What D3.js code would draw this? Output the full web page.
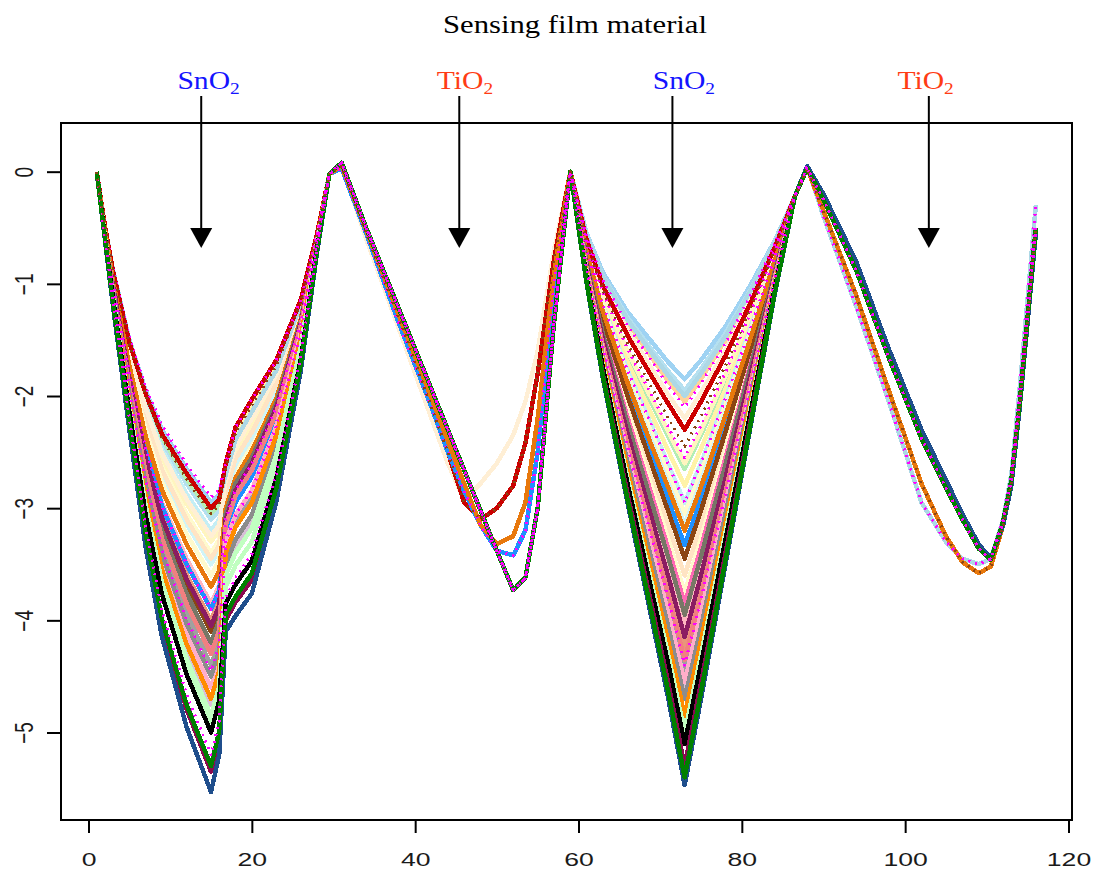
<!DOCTYPE html>
<html>
<head>
<meta charset="utf-8">
<script src="https://cdn.jsdelivr.net/npm/d3@7"></script>
<style>
  html, body { margin: 0; padding: 0; background: #ffffff; }
  svg { display: block; }
</style>
</head>
<body>
<svg id="chart" width="1094" height="871"></svg>
<script>
// Scan positions for each exposure cycle
const xCycle1 = [1, 2, 3, 5, 7, 9, 12, 15, 16, 16.8, 18, 20, 23, 26, 28, 29.5];
const xCycle2 = [31, 34, 38, 42, 44, 46, 48, 50, 52, 53.5, 55, 57, 59];
const xCycle3 = [61, 63, 66, 69, 71, 73, 75, 78, 81, 84, 86.5];
const xCycle4 = [88, 90, 94, 98, 102, 105, 107, 109, 110.5, 112, 113, 114, 116];

// Cycle 1 (SnO2 exposure and recovery), one row per sample
const cycle1 = [
  [0, -0.48, -0.88, -1.5, -1.95, -2.3, -2.65, -2.95, -2.88, -2.62, -2.3, -2.05, -1.7, -1.15, -0.55, -0.02],
  [0, -0.49, -0.90, -1.55, -2.03, -2.41, -2.78, -3.10, -3.02, -2.70, -2.39, -2.14, -1.77, -1.18, -0.56, -0.02],
  [0, -0.48, -0.89, -1.52, -1.98, -2.34, -2.69, -3.0, -2.92, -2.65, -2.33, -2.08, -1.73, -1.16, -0.55, -0.02],
  [0, -0.48, -0.89, -1.53, -2.0, -2.37, -2.74, -3.05, -2.97, -2.68, -2.37, -2.12, -1.75, -1.18, -0.56, -0.02],
  [0, -0.48, -0.89, -1.52, -1.98, -2.34, -2.69, -3.0, -2.92, -2.66, -2.34, -2.10, -1.73, -1.17, -0.55, -0.02],
  [0, -0.48, -0.89, -1.52, -1.98, -2.34, -2.69, -3.0, -2.92, -2.6, -2.28, -2.03, -1.68, -1.14, -0.55, -0.02],
  [0, -0.49, -0.91, -1.58, -2.09, -2.48, -2.87, -3.2, -3.1, -2.9, -2.61, -2.37, -1.94, -1.27, -0.58, -0.02],
  [0, -0.50, -0.94, -1.64, -2.19, -2.62, -3.05, -3.4, -3.28, -2.95, -2.67, -2.43, -1.98, -1.29, -0.58, -0.02],
  [0, -0.52, -1.0, -1.79, -2.47, -2.98, -3.5, -3.9, -3.73, -3.2, -2.95, -2.72, -2.19, -1.39, -0.61, -0.02],
  [0, -0.53, -1.02, -1.86, -2.57, -3.13, -3.68, -4.1, -3.91, -3.1, -2.84, -2.60, -2.10, -1.35, -0.60, -0.02],
  [0, -0.51, -0.97, -1.73, -2.36, -2.84, -3.32, -3.7, -3.56, -3.0, -2.73, -2.49, -2.02, -1.31, -0.59, -0.02],
  [0, -0.54, -1.03, -1.89, -2.63, -3.2, -3.76, -4.2, -4.0, -3.05, -2.78, -2.55, -2.06, -1.33, -0.60, -0.02],
  [0, -0.53, -1.02, -1.84, -2.55, -3.09, -3.63, -4.05, -3.87, -3.1, -2.84, -2.60, -2.10, -1.35, -0.60, -0.02],
  [0, -0.54, -1.05, -1.92, -2.68, -3.27, -3.85, -4.3, -4.09, -3.15, -2.89, -2.66, -2.15, -1.37, -0.61, -0.02],
  [0, -0.56, -1.08, -2.01, -2.85, -3.48, -4.12, -4.6, -4.36, -3.3, -3.06, -2.84, -2.27, -1.44, -0.62, -0.02],
  [0, -0.55, -1.07, -1.98, -2.79, -3.41, -4.03, -4.5, -4.27, -3.5, -3.28, -3.06, -2.44, -1.52, -0.64, -0.02],
  [0, -0.56, -1.10, -2.04, -2.90, -3.55, -4.21, -4.7, -4.45, -3.4, -3.17, -2.95, -2.35, -1.48, -0.63, -0.02],
  [0, -0.57, -1.12, -2.09, -2.98, -3.66, -4.34, -4.85, -4.59, -3.6, -3.40, -3.18, -2.52, -1.56, -0.65, -0.02],
  [0, -0.58, -1.13, -2.14, -3.06, -3.77, -4.48, -5.0, -4.72, -3.85, -3.68, -3.47, -2.73, -1.67, -0.68, -0.02],
  [0, -0.59, -1.18, -2.24, -3.25, -4.02, -4.79, -5.35, -5.04, -4.0, -3.84, -3.64, -2.86, -1.73, -0.69, -0.02],
  [0, -0.6, -1.2, -2.3, -3.35, -4.15, -4.95, -5.53, -5.2, -4.1, -3.96, -3.76, -2.94, -1.77, -0.71, -0.02],
  [0, -0.59, -1.17, -2.23, -3.23, -3.99, -4.75, -5.3, -4.99, -3.95, -3.79, -3.58, -2.82, -1.71, -0.69, -0.02],
  [0, -0.48, -0.87, -1.48, -1.92, -2.26, -2.61, -2.9, -2.84, -2.6, -2.28, -2.03, -1.68, -1.14, -0.55, -0.02],
  [0, -0.52, -1.0, -1.79, -2.47, -2.98, -3.5, -3.9, -3.73, -3.1, -2.84, -2.60, -2.10, -1.35, -0.60, -0.02],
  [0, -0.55, -1.07, -1.96, -2.76, -3.37, -3.99, -4.45, -4.23, -3.3, -3.06, -2.84, -2.27, -1.44, -0.62, -0.02],
  [0, -0.58, -1.16, -2.2, -3.17, -3.91, -4.66, -5.2, -4.9, -3.8, -3.62, -3.41, -2.69, -1.65, -0.67, -0.02],
  [0, -0.48, -0.89, -1.53, -2.0, -2.37, -2.74, -3.05, -2.97, -2.65, -2.33, -2.08, -1.73, -1.16, -0.55, -0.02],
  [0, -0.50, -0.92, -1.61, -2.14, -2.55, -2.96, -3.3, -3.20, -2.8, -2.50, -2.26, -1.85, -1.23, -0.57, -0.02],
  [0, -0.51, -0.95, -1.67, -2.25, -2.69, -3.14, -3.5, -3.37, -2.9, -2.61, -2.37, -1.94, -1.27, -0.58, -0.02],
  [0, -0.50, -0.94, -1.66, -2.22, -2.66, -3.10, -3.45, -3.33, -2.85, -2.56, -2.32, -1.89, -1.25, -0.57, -0.02],
  [0, -0.51, -0.96, -1.70, -2.30, -2.77, -3.23, -3.6, -3.46, -3.0, -2.73, -2.49, -2.02, -1.31, -0.59, -0.02],
  [0, -0.52, -0.99, -1.78, -2.44, -2.95, -3.45, -3.85, -3.69, -3.05, -2.78, -2.55, -2.06, -1.33, -0.60, -0.02],
  [0, -0.53, -1.01, -1.83, -2.52, -3.05, -3.59, -4.0, -3.82, -3.2, -2.95, -2.72, -2.19, -1.39, -0.61, -0.02],
  [0, -0.55, -1.06, -1.95, -2.74, -3.34, -3.94, -4.4, -4.18, -3.35, -3.12, -2.89, -2.31, -1.46, -0.63, -0.02],
  [0, -0.56, -1.10, -2.06, -2.93, -3.59, -4.26, -4.75, -4.50, -3.55, -3.34, -3.12, -2.48, -1.54, -0.65, -0.02],
  [0, -0.57, -1.12, -2.10, -3.01, -3.70, -4.39, -4.9, -4.63, -3.7, -3.51, -3.30, -2.61, -1.60, -0.66, -0.02],
  [0, -0.54, -1.04, -1.90, -2.66, -3.23, -3.81, -4.25, -4.05, -3.2, -2.95, -2.72, -2.19, -1.39, -0.61, -0.02],
  [0, -0.49, -0.92, -1.59, -2.11, -2.51, -2.92, -3.25, -3.15, -2.75, -2.45, -2.20, -1.81, -1.20, -0.56, -0.02],
  [0, -0.48, -0.89, -1.52, -1.98, -2.34, -2.69, -3.0, -2.92, -2.70, -2.39, -2.14, -1.77, -1.18, -0.56, -0.02]
];

// Cycle 2 (TiO2) response shapes shared by groups of samples
const cycle2Shapes = [
  [0.08, -0.5, -1.22, -1.94, -2.3, -2.66, -3.02, -3.38, -3.73, -3.62, -3.0, -1.35, 0],
  [0.03, -0.55, -1.35, -2.1, -2.5, -2.85, -3.15, -3.38, -3.42, -3.2, -2.5, -1.0, 0],
  [0.05, -0.52, -1.28, -2.02, -2.4, -2.78, -3.15, -3.32, -3.25, -2.95, -2.2, -0.9, 0],
  [0.05, -0.55, -1.3, -2.1, -2.5, -2.95, -3.1, -3.0, -2.8, -2.42, -1.8, -0.78, 0],
  [0.05, -0.6, -1.4, -2.2, -2.6, -2.93, -2.78, -2.6, -2.35, -2.05, -1.6, -0.7, 0]
];

// Cycle 3 (SnO2) response, one row per sample
const cycle3 = [
  [-0.55, -0.9, -1.25, -1.52, -1.7, -1.85, -1.68, -1.38, -1.02, -0.62, -0.22],
  [-0.56, -0.93, -1.30, -1.59, -1.78, -1.95, -1.76, -1.44, -1.06, -0.63, -0.22],
  [-0.57, -0.95, -1.34, -1.66, -1.87, -2.05, -1.85, -1.50, -1.09, -0.65, -0.22],
  [-0.65, -1.11, -1.63, -2.07, -2.36, -2.65, -2.35, -1.85, -1.30, -0.73, -0.22],
  [-0.67, -1.15, -1.70, -2.17, -2.49, -2.8, -2.47, -1.94, -1.36, -0.75, -0.22],
  [-0.61, -1.02, -1.46, -1.83, -2.07, -2.3, -2.05, -1.64, -1.18, -0.68, -0.22],
  [-0.69, -1.19, -1.77, -2.27, -2.61, -2.95, -2.60, -2.02, -1.41, -0.77, -0.22],
  [-0.70, -1.21, -1.81, -2.34, -2.69, -3.05, -2.68, -2.08, -1.44, -0.78, -0.22],
  [-0.73, -1.29, -1.95, -2.53, -2.93, -3.33, -2.92, -2.25, -1.54, -0.82, -0.22],
  [-0.75, -1.32, -2.0, -2.62, -3.03, -3.45, -3.02, -2.32, -1.59, -0.83, -0.22],
  [-0.72, -1.25, -1.88, -2.45, -2.82, -3.2, -2.81, -2.17, -1.50, -0.80, -0.22],
  [-0.81, -1.45, -2.24, -2.96, -3.44, -3.95, -3.43, -2.61, -1.76, -0.90, -0.22],
  [-0.84, -1.50, -2.33, -3.10, -3.61, -4.15, -3.60, -2.73, -1.83, -0.93, -0.22],
  [-0.86, -1.56, -2.43, -3.23, -3.77, -4.35, -3.77, -2.85, -1.90, -0.95, -0.22],
  [-0.89, -1.61, -2.52, -3.37, -3.94, -4.55, -3.93, -2.96, -1.98, -0.98, -0.22],
  [-0.90, -1.65, -2.59, -3.47, -4.06, -4.7, -4.06, -3.05, -2.03, -1.0, -0.22],
  [-0.92, -1.69, -2.66, -3.58, -4.19, -4.85, -4.18, -3.14, -2.08, -1.02, -0.22],
  [-0.94, -1.73, -2.73, -3.68, -4.31, -5.0, -4.31, -3.22, -2.13, -1.04, -0.22],
  [-0.95, -1.75, -2.78, -3.75, -4.39, -5.1, -4.39, -3.28, -2.17, -1.05, -0.22],
  [-0.98, -1.81, -2.87, -3.88, -4.56, -5.3, -4.56, -3.40, -2.24, -1.08, -0.22],
  [-1.0, -1.85, -2.95, -4.0, -4.7, -5.47, -4.7, -3.5, -2.3, -1.1, -0.22],
  [-0.99, -1.83, -2.92, -3.95, -4.64, -5.4, -4.64, -3.46, -2.28, -1.09, -0.22],
  [-0.58, -0.97, -1.37, -1.69, -1.91, -2.1, -1.89, -1.53, -1.11, -0.65, -0.22],
  [-0.64, -1.08, -1.58, -2.0, -2.28, -2.55, -2.26, -1.79, -1.27, -0.71, -0.22],
  [-0.69, -1.19, -1.77, -2.27, -2.61, -2.95, -2.60, -2.02, -1.41, -0.77, -0.22],
  [-0.87, -1.57, -2.45, -3.27, -3.81, -4.4, -3.81, -2.87, -1.92, -0.96, -0.22],
  [-0.63, -1.06, -1.53, -1.93, -2.20, -2.45, -2.18, -1.73, -1.23, -0.70, -0.22],
  [-0.64, -1.10, -1.60, -2.03, -2.32, -2.6, -2.31, -1.82, -1.28, -0.72, -0.22],
  [-0.71, -1.24, -1.86, -2.41, -2.78, -3.15, -2.76, -2.14, -1.48, -0.79, -0.22],
  [-0.77, -1.36, -2.07, -2.72, -3.15, -3.6, -3.14, -2.40, -1.64, -0.85, -0.22],
  [-0.79, -1.40, -2.14, -2.82, -3.28, -3.75, -3.27, -2.49, -1.69, -0.87, -0.22],
  [-0.82, -1.48, -2.28, -3.03, -3.52, -4.05, -3.52, -2.67, -1.80, -0.91, -0.22],
  [-0.85, -1.53, -2.38, -3.16, -3.69, -4.25, -3.68, -2.79, -1.87, -0.94, -0.22],
  [-0.87, -1.58, -2.47, -3.30, -3.85, -4.45, -3.85, -2.90, -1.94, -0.96, -0.22],
  [-0.89, -1.62, -2.54, -3.40, -3.98, -4.6, -3.98, -2.99, -1.99, -0.98, -0.22],
  [-0.94, -1.71, -2.71, -3.64, -4.27, -4.95, -4.27, -3.19, -2.12, -1.03, -0.22],
  [-0.80, -1.42, -2.19, -2.89, -3.36, -3.85, -3.35, -2.55, -1.73, -0.88, -0.22],
  [-0.59, -0.99, -1.41, -1.76, -1.99, -2.2, -1.97, -1.59, -1.14, -0.67, -0.22],
  [-0.57, -0.94, -1.32, -1.62, -1.82, -2.0, -1.80, -1.47, -1.07, -0.64, -0.22]
];

// Cycle 4 (TiO2) response shapes shared by groups of samples
const cycle4Shapes = [
  [0.03, -0.25, -0.88, -1.66, -2.38, -2.82, -3.1, -3.36, -3.46, -3.12, -2.75, -2.08, -0.5],
  [0.03, -0.35, -1.1, -1.95, -2.78, -3.25, -3.48, -3.58, -3.52, -3.15, -2.78, -2.1, -0.5],
  [0.05, -0.4, -1.2, -2.05, -2.95, -3.3, -3.45, -3.5, -3.45, -3.1, -2.7, -1.95, -0.3],
  [0.05, -0.2, -0.8, -1.58, -2.3, -2.75, -3.05, -3.32, -3.45, -3.15, -2.8, -2.12, -0.55]
];

// Which shared shape each sample follows in cycles 2 and 4
const cycle2Shape = [4, 1, 4, 4, 4, 3, 1, 0, 1, 2, 2, 0, 0, 0, 0, 0, 0, 0, 0, 0, 0, 0, 1, 0, 0, 0, 3,
                     4, 1, 0, 0, 0, 0, 0, 0, 0, 0, 4, 1];
const cycle4Shape = [2, 2, 1, 0, 0, 0, 2, 0, 0, 1, 1, 0, 0, 0, 0, 0, 0, 0, 0, 0, 3, 0, 2, 0, 0, 0, 1,
                     2, 0, 0, 0, 0, 0, 0, 0, 0, 0, 2, 2];

// Sample colours and dotted samples
const sampleColors = [
  "#9fd3f3", "#b5e0f0", "#ffd39b", "#b4eeb4", "#fff3a8", "#cc0000", "#c4eef5",
  "#fffacd", "#1e90ff", "#8b4513", "#e8780c", "#777766", "#8b1c62", "#f08080",
  "#ffaec9", "#8c8c8c", "#ff8c00", "#c1ffc1", "#000000", "#8b0a50", "#1f4e8c",
  "#008000", "#ff00ff", "#ff00ff", "#ff00ff", "#ff00ff", "#8b4513",
  "#fff5c0", "#d0f4f7", "#ffe4c4", "#fffacd", "#ffb6c1", "#e9967a", "#a0a0a0",
  "#d8bfd8", "#c0ffc0", "#ff69b4", "#ffefd5", "#add8e6"
];
const sampleDotted = [
  false, false, false, false, false, false, false, false, false, false, false, false, false, false,
  false, false, false, false, false, false, false, false, true, true, true, true, true,
  false, false, false, false, false, false, false, false, false, false, false, false
];
// Painting order: pale samples underneath, saturated ones on top
const drawOrder = [0, 1, 2, 3, 4, 6, 7, 27, 28, 29, 30, 37, 38, 5, 31, 32, 33, 34, 35, 36,
                   8, 9, 10, 11, 12, 13, 14, 15, 16, 17, 18, 19, 20, 21, 22, 23, 24, 25, 26];

// Axis ticks
const xTicks = [0, 20, 40, 60, 80, 100, 120];
const yTicks = [0, -1, -2, -3, -4, -5];

// Film material annotations
const filmNames = ["SnO", "TiO", "SnO", "TiO"];
const filmColors = ["#1414ff", "#ff3c14", "#1414ff", "#ff3c14"];
const arrowX = [13.8, 45.4, 71.5, 102.9];
const labelX = [14.7, 46.1, 72.9, 102.5];
const arrowTipY = -0.68;

const svg = d3.select("#chart");
const W = 1094, H = 871;
const plot = { left: 61, right: 1072, top: 123, bottom: 820 };

const x = d3.scaleLinear().domain([-3.37, 120.43]).range([plot.left, plot.right]);
const y = d3.scaleLinear().domain([0.434, -5.78]).range([plot.top, plot.bottom]);

svg.append("rect").attr("width", W).attr("height", H).attr("fill", "#ffffff");

// Build each sample's series
const xAll = xCycle1.concat(xCycle2, xCycle3, xCycle4);
const series = cycle1.map((row, i) => {
  const vals = row.concat(cycle2Shapes[cycle2Shape[i]], cycle3[i], cycle4Shapes[cycle4Shape[i]]);
  return { id: i, pts: vals.map((v, k) => [xAll[k], v]) };
});
const ordered = drawOrder.map(i => series[i]);

const line = d3.line()
  .x(d => x(d[0]))
  .y(d => y(d[1]))
  .curve(d3.curveLinear);

svg.append("clipPath").attr("id", "plotclip")
  .append("rect")
  .attr("x", plot.left).attr("y", plot.top)
  .attr("width", plot.right - plot.left).attr("height", plot.bottom - plot.top);
const curves = svg.append("g").attr("clip-path", "url(#plotclip)");

curves.selectAll("path")
  .data(ordered)
  .join("path")
  .attr("d", d => line(d.pts))
  .attr("fill", "none")
  .attr("stroke", d => sampleColors[d.id])
  .attr("stroke-width", d => sampleDotted[d.id] ? 3 : 4.5)
  .attr("stroke-dasharray", d => sampleDotted[d.id] ? "2,5" : null)
  .attr("stroke-linejoin", "round")
  .attr("shape-rendering", "crispEdges");

// Plot frame
svg.append("rect")
  .attr("x", plot.left).attr("y", plot.top)
  .attr("width", plot.right - plot.left).attr("height", plot.bottom - plot.top)
  .attr("fill", "none").attr("stroke", "#000").attr("stroke-width", 2);

const tickFont = "'Liberation Sans', Arial, sans-serif";
const stretch = 1.4;

// Bottom axis (labels are drawn wide, as in the exported figure)
const xAxis = d3.axisBottom(x).tickValues(xTicks).tickSize(13).tickPadding(20).tickFormat(d3.format("d"));
const gx = svg.append("g").attr("transform", `translate(0,${plot.bottom})`).call(xAxis);
gx.select(".domain").remove();
gx.selectAll(".tick line").attr("stroke", "#000").attr("stroke-width", 2);
gx.selectAll(".tick text")
  .style("font-family", tickFont)
  .style("font-size", "19px")
  .attr("fill", "#1a1a1a")
  .attr("transform", `scale(${stretch},1)`);

// Left axis with rotated labels
const yAxis = d3.axisLeft(y).tickValues(yTicks).tickSize(14).tickFormat(d3.format("d"));
const gy = svg.append("g").attr("transform", `translate(${plot.left},0)`).call(yAxis);
gy.select(".domain").remove();
gy.selectAll(".tick line").attr("stroke", "#000").attr("stroke-width", 2);
gy.selectAll(".tick text")
  .style("font-family", tickFont)
  .style("font-size", "19px")
  .attr("fill", "#1a1a1a")
  .attr("text-anchor", "middle")
  .attr("dy", null)
  .attr("x", null)
  .attr("transform", `translate(-28,0) scale(${stretch},1) rotate(-90)`);

// Title
svg.append("text")
  .attr("transform", "translate(575,33) scale(1.18,1)")
  .attr("text-anchor", "middle")
  .attr("font-family", "'Liberation Serif', 'Times New Roman', serif")
  .attr("font-size", 26)
  .attr("fill", "#000")
  .text("Sensing film material");

// Film labels with subscript
const labels = svg.append("g");
filmNames.forEach((name, i) => {
  const t = labels.append("text")
    .attr("transform", `translate(${x(labelX[i])},89) scale(1.14,1)`)
    .attr("text-anchor", "middle")
    .attr("font-family", "'Liberation Serif', 'Times New Roman', serif")
    .attr("font-size", 26)
    .attr("fill", filmColors[i]);
  t.append("tspan").text(name);
  t.append("tspan").attr("font-size", 17).attr("dy", 5).text("2");
});

// Arrows pointing to each film's response
const arrows = svg.append("g");
arrowX.forEach(ax => {
  const px = x(ax), tip = y(arrowTipY);
  arrows.append("line")
    .attr("x1", px).attr("x2", px)
    .attr("y1", 96).attr("y2", tip - 18)
    .attr("stroke", "#000").attr("stroke-width", 2);
  arrows.append("path")
    .attr("d", `M${px - 11},${tip - 20}L${px + 11},${tip - 20}L${px},${tip}Z`)
    .attr("fill", "#000");
});
</script>
</body>
</html>
